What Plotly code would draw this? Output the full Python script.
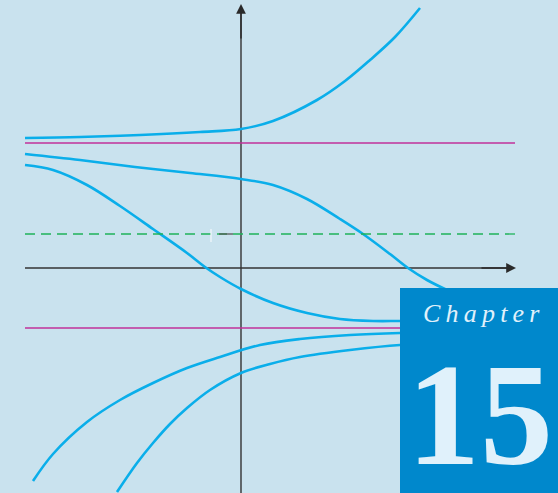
import plotly.graph_objects as go

# Picture coordinates (pixels, y downward)
curve1_x = [25, 80, 140, 200, 241, 273, 317, 345, 370, 395, 420]
curve1_y = [138, 137, 135, 132, 129, 121, 100, 81, 60, 37, 8]

curve2_x = [25, 80, 135, 190, 241, 273, 307, 340, 363, 390, 408, 427, 447, 470]
curve2_y = [154, 160, 167, 173, 179, 185, 199, 219, 234, 254, 268, 280, 290, 300]

curve3_x = [25, 53, 87, 120, 153, 187, 205, 220, 241, 273, 307, 340, 373, 400, 430]
curve3_y = [165, 170, 185, 206, 229, 253, 267, 277, 289, 303, 313, 319, 321, 321, 321]

curve4_x = [33, 53, 87, 120, 153, 187, 220, 260, 300, 350, 400, 460]
curve4_y = [481, 454, 422, 400, 383, 368, 357, 345, 339, 335, 333, 332]

curve5_x = [117, 137, 153, 170, 187, 210, 241, 270, 300, 350, 400, 460]
curve5_y = [492, 463, 443, 424, 408, 390, 373, 364, 357, 350, 345, 343]

magenta_levels = [143, 328]
dashed_level = [234]
origin = (241, 268)

chapter_word = "Chapter"
chapter_num = "15"

BLUE = "#0aaeea"
BG = "#c9e2ee"

fig = go.Figure()
for xs, ys in [(curve1_x, curve1_y), (curve2_x, curve2_y), (curve3_x, curve3_y),
               (curve4_x, curve4_y), (curve5_x, curve5_y)]:
    fig.add_trace(go.Scatter(x=xs, y=ys, mode="lines", line=dict(color=BLUE, width=2.6, shape="spline", smoothing=1.0),
                             hoverinfo="skip", showlegend=False))

for lv in magenta_levels:
    fig.add_trace(go.Scatter(x=[25, 515], y=[lv, lv], mode="lines", line=dict(color="#c0309a", width=1.3),
                             hoverinfo="skip", showlegend=False))
for lv in dashed_level:
    fig.add_trace(go.Scatter(x=[25, 515], y=[lv, lv], mode="lines",
                             line=dict(color="#1fb35a", width=1.3, dash="10px,6px"),
                             hoverinfo="skip", showlegend=False))

shapes = [
    dict(type="line", x0=origin[0], x1=origin[0], y0=493, y1=12, line=dict(color="#333333", width=1.4), layer="below"),
    dict(type="line", x0=25, x1=508, y0=origin[1], y1=origin[1], line=dict(color="#333333", width=1.4), layer="below"),
    dict(type="line", x0=219, x1=233, y0=234, y1=234, line=dict(color="#555555", width=1.3), layer="above"),
    dict(type="line", x0=211, x1=211, y0=229, y1=242, line=dict(color="#f4f9fc", width=1.2), layer="above"),
    dict(type="rect", x0=400, x1=558, y0=288, y1=493, fillcolor="#0088cc", line=dict(width=0), layer="above"),
]

annotations = [
    dict(x=origin[0], y=4, ax=origin[0], ay=40, xref="x", yref="y", axref="x", ayref="y", text="",
         showarrow=True, arrowhead=2, arrowsize=1.4, arrowwidth=1.4, arrowcolor="#2a2a2a"),
    dict(x=516, y=origin[1], ax=480, ay=origin[1], xref="x", yref="y", axref="x", ayref="y", text="",
         showarrow=True, arrowhead=2, arrowsize=1.4, arrowwidth=1.4, arrowcolor="#2a2a2a"),
    dict(x=481, y=313, xref="x", yref="y", text="<i>" + "\u2009".join(chapter_word) + "</i>", showarrow=False,
         font=dict(family="Liberation Serif", size=26, color="#e0f1fb"), xanchor="center", yanchor="middle"),
    dict(x=480, y=415, xref="x", yref="y", text="<b>" + chapter_num + "</b>", showarrow=False,
         font=dict(family="Liberation Serif", size=146, color="#e0f1fb"), xanchor="center", yanchor="middle"),
]

fig.update_layout(
    width=558, height=493, margin=dict(l=0, r=0, t=0, b=0),
    paper_bgcolor=BG, plot_bgcolor=BG,
    xaxis=dict(range=[0, 558], visible=False, fixedrange=True),
    yaxis=dict(range=[493, 0], visible=False, fixedrange=True),
    shapes=shapes, annotations=annotations, showlegend=False,
)
fig.write_html("out.html", config={"displayModeBar": False},
               post_script="document.body.style.margin='0';document.body.style.overflow='hidden';")
